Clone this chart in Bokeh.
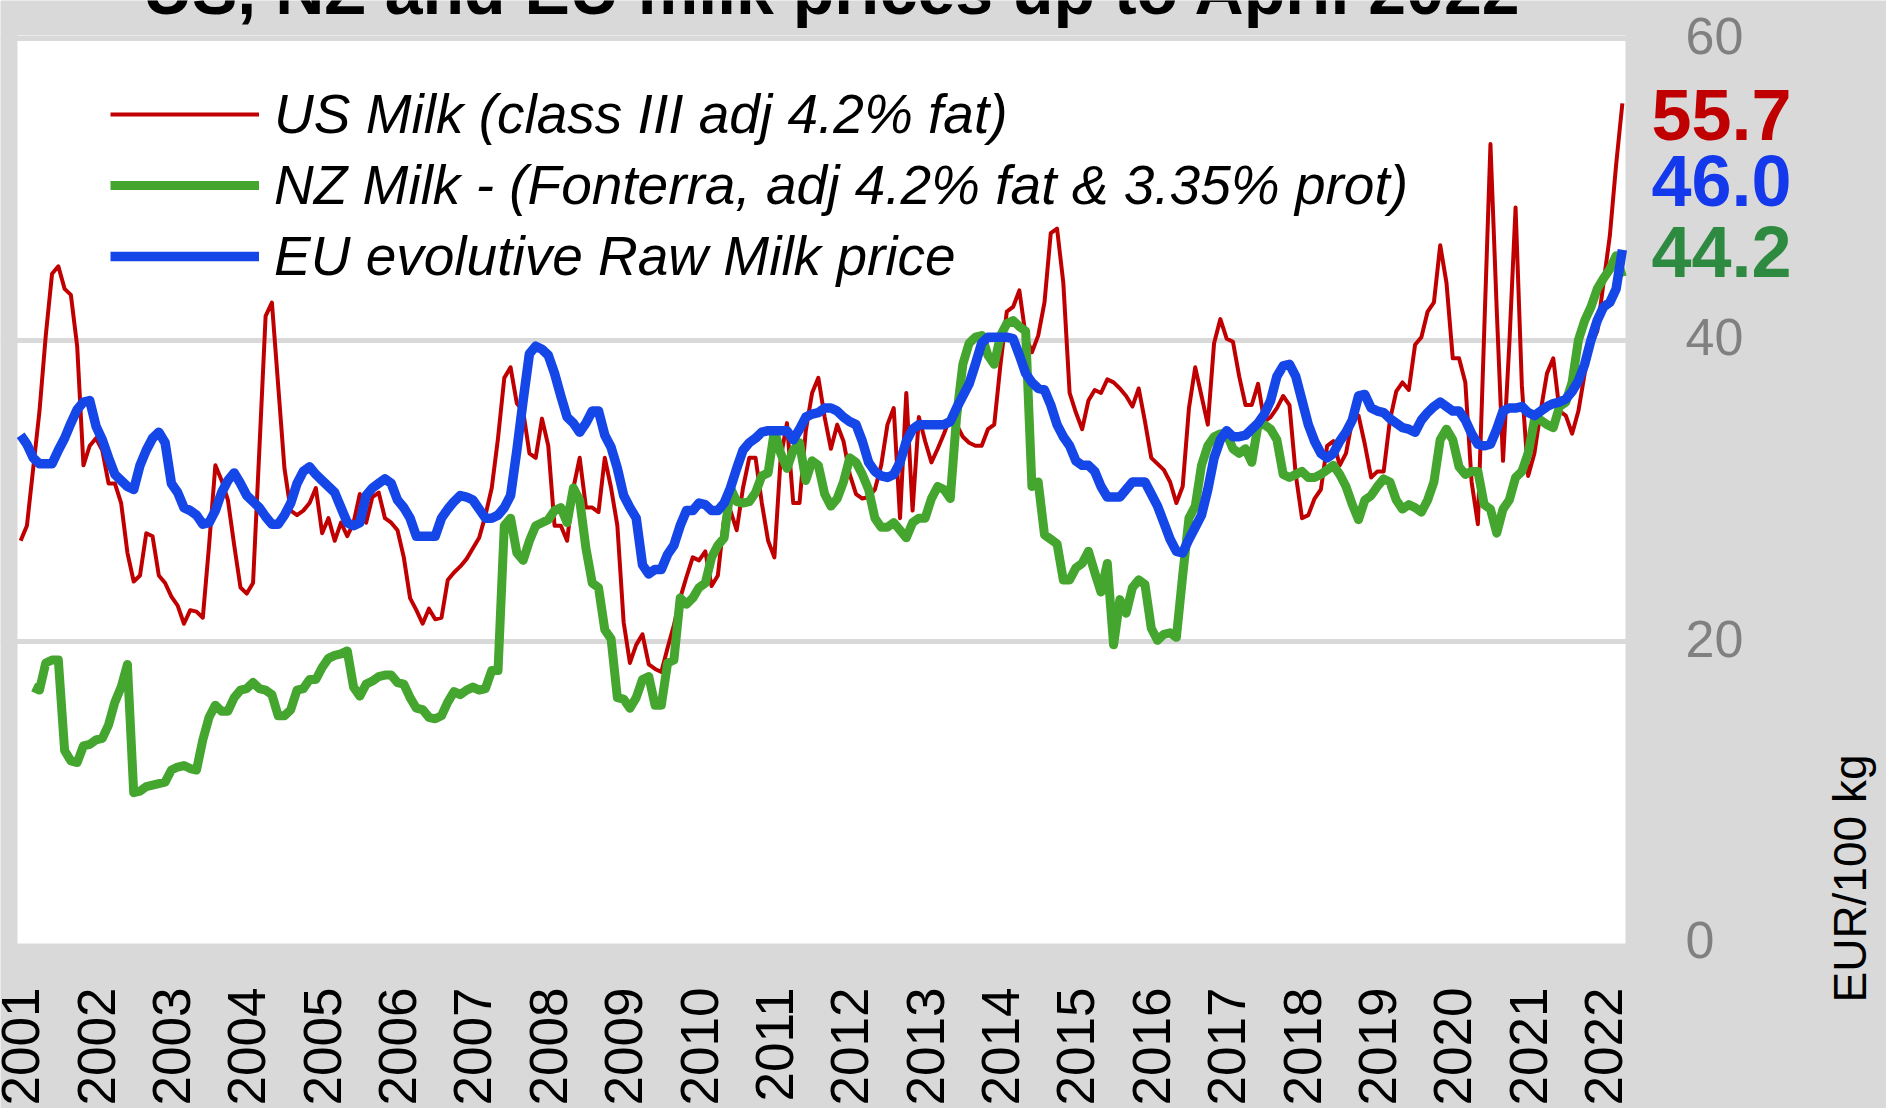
import numpy as np
from bokeh.plotting import figure
from bokeh.models import (ColumnDataSource, FixedTicker, Label, Legend, LegendItem, Range1d, BoxAnnotation)
from bokeh.core.properties import value
from bokeh.embed import file_html
from bokeh.resources import INLINE

# ---------------- data (monthly, Jan 2001 .. Apr 2022, EUR/100 kg) ----------------
year_labels = ["2001", "2002", "2003", "2004", "2005", "2006", "2007", "2008", "2009", "2010", "2011",
               "2012", "2013", "2014", "2015", "2016", "2017", "2018", "2019", "2020", "2021", "2022"]

us_milk = [
    26.7, 27.7, 31.5, 35.3, 40.3, 44.4, 44.9, 43.4, 43.0, 39.6, 31.7, 33.0,   # 2001
    33.5, 32.7, 30.5, 30.5, 29.2, 25.9, 24.0, 24.4, 27.2, 27.0, 24.4, 23.9,   # 2002
    23.0, 22.4, 21.2, 22.1, 22.0, 21.6, 26.4, 31.7, 30.7, 29.4, 26.4, 23.6,   # 2003
    23.2, 23.9, 32.7, 41.6, 42.5, 37.0, 31.5, 28.7, 28.4, 28.7, 29.2, 30.2,   # 2004
    27.2, 28.2, 26.7, 27.9, 27.0, 27.9, 29.8, 27.9, 29.6, 29.9, 28.2, 27.9,   # 2005
    27.4, 25.6, 22.9, 22.1, 21.2, 22.2, 21.5, 21.6, 24.1, 24.6, 25.0, 25.5,   # 2006
    26.2, 26.9, 28.4, 30.2, 33.5, 37.5, 38.2, 35.8, 35.3, 32.5, 32.2, 34.8,   # 2007
    33.0, 27.7, 27.7, 26.7, 30.2, 32.2, 28.9, 28.9, 28.6, 32.2, 30.2, 27.7,   # 2008
    21.3, 18.6, 19.8, 20.5, 18.5, 18.2, 18.0, 19.6, 21.1, 22.9, 24.3, 25.6,   # 2009
    25.4, 26.0, 23.7, 24.4, 28.2, 28.7, 27.4, 30.2, 32.2, 32.2, 29.2, 26.7,   # 2010
    25.6, 32.2, 34.5, 29.2, 29.2, 34.0, 36.5, 37.5, 34.9, 32.8, 34.4, 33.3,   # 2011
    31.1, 29.8, 29.5, 29.6, 30.1, 31.7, 34.4, 35.5, 28.2, 36.5, 28.7, 34.9,   # 2012
    33.3, 31.9, 32.8, 33.8, 34.9, 34.4, 33.6, 33.2, 33.0, 33.0, 34.1, 34.4,   # 2013
    38.4, 41.9, 42.2, 43.3, 40.3, 39.2, 40.3, 42.5, 47.1, 47.4, 43.8, 36.5,   # 2014
    35.2, 34.1, 36.0, 36.7, 36.5, 37.4, 37.2, 36.8, 36.3, 35.6, 36.8, 34.6,   # 2015
    32.2, 31.8, 31.4, 30.6, 29.2, 30.3, 35.5, 38.2, 36.3, 34.4, 39.8, 41.4,   # 2016
    40.1, 39.9, 37.6, 35.7, 35.7, 37.1, 34.6, 34.9, 35.5, 36.3, 35.7, 31.1,   # 2017
    28.2, 28.4, 29.5, 30.1, 33.0, 33.3, 31.7, 32.5, 34.7, 35.0, 33.1, 30.9,   # 2018
    31.3, 31.3, 34.7, 36.6, 37.2, 36.7, 39.7, 40.2, 41.9, 42.5, 46.3, 43.8,   # 2019
    38.8, 38.8, 37.2, 30.6, 27.8, 40.5, 53.0, 42.0, 32.0, 39.7, 48.8, 37.0,   # 2020
    31.0, 32.5, 35.3, 37.8, 38.8, 35.3, 35.0, 33.8, 35.3, 37.8, 39.7, 40.6,   # 2021
    43.8, 46.9, 51.6, 55.7,                                                   # 2022
]

nz_milk = [
    None, None, 17.0, 16.8, 18.6, 18.8, 18.8, 12.8, 12.1, 12.0, 13.1, 13.2,   # 2001
    13.5, 13.6, 14.5, 16.0, 17.0, 18.5, 10.0, 10.1, 10.4, 10.5, 10.6, 10.7,   # 2002
    11.5, 11.7, 11.8, 11.6, 11.5, 13.5, 15.0, 15.8, 15.4, 15.4, 16.3, 16.8,   # 2003
    16.9, 17.3, 16.9, 16.8, 16.5, 15.1, 15.1, 15.5, 16.8, 16.9, 17.5, 17.5,   # 2004
    18.3, 18.9, 19.1, 19.2, 19.4, 17.0, 16.4, 17.2, 17.4, 17.7, 17.8, 17.8,   # 2005
    17.3, 17.2, 16.3, 15.6, 15.5, 15.0, 14.9, 15.1, 16.0, 16.7, 16.5, 16.8,   # 2006
    17.0, 16.8, 16.9, 18.1, 18.1, 27.7, 28.2, 25.9, 25.4, 26.7, 27.7, 27.9,   # 2007
    28.1, 28.7, 28.9, 27.9, 30.2, 29.4, 26.2, 23.9, 23.6, 20.8, 20.2, 16.3,   # 2008
    16.2, 15.6, 16.3, 17.5, 17.7, 15.8, 15.8, 18.6, 18.8, 22.9, 22.5, 22.9,   # 2009
    23.6, 23.9, 25.6, 26.4, 26.9, 30.2, 29.3, 29.2, 29.3, 29.9, 31.0, 31.2,   # 2010
    34.0, 32.5, 31.5, 32.7, 33.2, 30.7, 32.0, 31.7, 29.8, 29.0, 29.5, 30.6,   # 2011
    32.2, 31.9, 31.1, 30.1, 28.2, 27.6, 27.6, 27.9, 27.4, 26.9, 27.9, 28.2,   # 2012
    28.2, 29.5, 30.3, 30.1, 29.5, 34.9, 38.4, 39.8, 40.2, 40.3, 39.0, 38.4,   # 2013
    40.3, 41.1, 41.3, 40.9, 40.6, 30.3, 30.6, 27.1, 26.8, 26.5, 24.1, 24.1,   # 2014
    24.9, 25.2, 26.0, 24.6, 23.3, 25.2, 19.8, 22.8, 21.9, 23.6, 24.1, 23.8,   # 2015
    20.9, 20.1, 20.5, 20.6, 20.3, 24.4, 28.2, 29.0, 31.7, 33.0, 33.6, 33.8,   # 2016
    33.8, 32.8, 32.5, 32.8, 31.9, 34.4, 34.4, 34.1, 33.4, 31.1, 30.9, 31.1,   # 2017
    31.3, 30.9, 30.9, 31.1, 31.4, 31.7, 31.1, 30.3, 29.1, 28.1, 29.4, 29.7,   # 2018
    30.3, 30.8, 30.6, 29.4, 28.8, 29.1, 28.9, 28.6, 29.4, 30.6, 33.4, 34.1,   # 2019
    33.4, 31.6, 31.1, 31.3, 31.3, 29.1, 28.8, 27.2, 28.8, 29.4, 30.9, 31.3,   # 2020
    32.5, 34.7, 34.7, 34.4, 34.2, 35.6, 35.9, 37.2, 40.0, 41.3, 42.2, 43.4,   # 2021
    44.1, 44.7, 45.6, 44.2,                                                   # 2022
]

eu_milk = [
    33.7, 33.1, 32.2, 31.8, 31.8, 31.8, 32.7, 33.5, 34.5, 35.4, 35.9, 36.0,   # 2001
    34.3, 33.4, 32.2, 31.1, 30.7, 30.3, 30.1, 31.7, 32.7, 33.5, 33.9, 33.2,   # 2002
    30.5, 29.9, 28.9, 28.7, 28.4, 27.8, 27.9, 28.7, 29.9, 30.7, 31.2, 30.5,   # 2003
    29.7, 29.3, 28.9, 28.3, 27.8, 27.8, 28.4, 29.2, 30.5, 31.3, 31.6, 31.1,   # 2004
    30.7, 30.3, 29.9, 28.9, 27.9, 27.7, 27.9, 29.7, 30.2, 30.5, 30.8, 30.5,   # 2005
    29.4, 28.9, 28.2, 27.0, 27.0, 27.0, 27.0, 28.2, 28.8, 29.3, 29.7, 29.6,   # 2006
    29.4, 28.8, 28.2, 28.2, 28.4, 28.9, 29.7, 32.7, 36.0, 39.1, 39.6, 39.4,   # 2007
    39.0, 37.8, 36.3, 34.9, 34.5, 33.9, 34.5, 35.3, 35.3, 33.7, 32.9, 31.5,   # 2008
    29.7, 28.9, 28.2, 25.1, 24.5, 24.8, 24.8, 25.8, 26.4, 27.7, 28.7, 28.7,   # 2009
    29.2, 29.1, 28.7, 28.7, 29.2, 30.2, 31.5, 32.7, 33.2, 33.5, 33.9, 34.0,   # 2010
    34.0, 34.0, 34.0, 33.4, 34.1, 34.9, 35.1, 35.2, 35.5, 35.5, 35.3, 34.9,   # 2011
    34.6, 34.4, 33.3, 31.9, 31.3, 31.0, 30.9, 31.1, 31.9, 33.3, 34.1, 34.4,   # 2012
    34.4, 34.4, 34.4, 34.4, 34.6, 35.5, 36.3, 37.1, 38.4, 39.8, 40.2, 40.2,   # 2013
    40.2, 40.2, 40.1, 39.0, 37.8, 37.2, 36.8, 36.7, 35.7, 34.4, 33.6, 33.0,   # 2014
    32.0, 31.7, 31.7, 31.3, 30.3, 29.6, 29.6, 29.6, 30.1, 30.6, 30.6, 30.6,   # 2015
    29.8, 29.0, 27.9, 26.8, 26.0, 25.9, 26.8, 27.6, 28.4, 30.1, 32.2, 33.4,   # 2016
    34.0, 33.6, 33.6, 33.7, 34.1, 34.5, 35.1, 36.0, 37.6, 38.3, 38.4, 37.6,   # 2017
    36.0, 34.4, 33.3, 32.5, 32.2, 32.5, 33.3, 33.9, 34.7, 36.3, 36.4, 35.5,   # 2018
    35.3, 35.2, 34.8, 34.5, 34.2, 34.1, 33.9, 34.7, 35.2, 35.6, 35.9, 35.6,   # 2019
    35.3, 35.3, 34.7, 33.8, 33.1, 33.0, 33.1, 34.1, 35.3, 35.5, 35.5, 35.6,   # 2020
    35.2, 35.0, 35.3, 35.6, 35.8, 35.9, 36.1, 36.6, 37.3, 38.4, 40.0, 41.3,   # 2021
    42.2, 42.5, 43.4, 46.0,                                                   # 2022
]

series_labels = ["US Milk (class III adj 4.2% fat)",
                 "NZ Milk - (Fonterra, adj 4.2% fat & 3.35% prot)",
                 "EU evolutive Raw Milk price"]
title_text = "US, NZ and EU milk prices up to April 2022"
y_axis_title = "EUR/100 kg"
y_ticks = [0, 20, 40, 60]

# ---------------- styling / layout constants ----------------
RED, GREEN, BLUE = "#c00000", "#44a52f", "#1446e8"
RED_T, GREEN_T, BLUE_T = "#c00000", "#2e8a40", "#1438ec"
BG = "#d9d9d9"
FONT = "Liberation Sans"
W, H = 1886, 1108                      # canvas == window (template has no body margin)
PL, PR, PT, PB = 17, 1625, 35, 943     # white plot area in canvas px
Y_TOP = 60.2                           # value at the top edge of the white area
MID = 0.3465                           # baseline offset below a "middle" anchor, in em

n = len(us_milk)
x_idx = np.arange(n)
XA, XB = -0.5, n - 0.5
PXU = (PR - PL) / (XB - XA)            # px per month
PYU = (PB - PT) / Y_TOP                # px per EUR
X0 = XA - PL / PXU
X1 = XA + (W - PL) / PXU
Y0 = -(H - PB) / PYU
Y1 = PB / PYU


def dx(px):  # canvas px -> data x
    return X0 + px / PXU


def dy(py):  # canvas px -> data y
    return Y1 - py / PYU


def to_num(v):
    return np.array([np.nan if a is None else a for a in v], dtype=float)


src = ColumnDataSource(dict(x=x_idx, us=to_num(us_milk), nz=to_num(nz_milk), eu=to_num(eu_milk)))

p = figure(width=W, height=H, output_backend="svg", toolbar_location=None, title=None,
           x_range=Range1d(X0, X1), y_range=Range1d(Y0, Y1),
           x_axis_location=None, y_axis_location=None, min_border=0)
p.background_fill_color = BG
p.border_fill_color = BG
p.outline_line_color = None

# white plotting area
p.add_layout(BoxAnnotation(left=XA, right=XB, bottom=0, top=Y_TOP, fill_color="white", fill_alpha=1.0,
                           line_color=None, level="image"))

p.xgrid.visible = False
p.ygrid.ticker = FixedTicker(ticks=[t for t in y_ticks if t > 0])
p.ygrid.grid_line_color = BG
p.ygrid.grid_line_width = 5

r_us = p.line("x", "us", source=src, line_color=RED, line_width=4, line_join="round")
r_nz = p.line("x", "nz", source=src, line_color=GREEN, line_width=9, line_join="round")
r_eu = p.line("x", "eu", source=src, line_color=BLUE, line_width=9.5, line_join="round")

# year tick labels (vertical, reading upward, ending just below the plot)
yr_src = ColumnDataSource(dict(x=[12 * i for i in range(len(year_labels))],
                               y=[dy(987)] * len(year_labels), text=year_labels))
p.text(x="x", y="y", text="text", source=yr_src, angle=np.pi / 2, text_align="right",
       text_baseline="middle", text_font=value(FONT), text_font_size=value("53px"), text_color="black")

# value tick labels on the right
yt_src = ColumnDataSource(dict(x=[dx(1685)] * len(y_ticks), y=[t + 0.2 for t in y_ticks],
                               text=[str(t) for t in y_ticks]))
p.text(x="x", y="y", text="text", source=yt_src, text_align="left", text_baseline="middle",
       text_font=value(FONT), text_font_size=value("52px"), text_color="#808080")

legend = Legend(items=[LegendItem(label=series_labels[0], renderers=[r_us]),
                       LegendItem(label=series_labels[1], renderers=[r_nz]),
                       LegendItem(label=series_labels[2], renderers=[r_eu])],
                location=(110, 817), orientation="vertical",
                background_fill_alpha=0, border_line_color=None,
                label_text_font=FONT, label_text_font_style="italic",
                label_text_font_size="55px", label_text_color="black",
                glyph_width=149, glyph_height=70, label_height=70, label_standoff=15,
                spacing=1, padding=0, margin=0)
p.add_layout(legend)

# title (partly above the window edge, as in the reference), baseline at y=13 px
TS = 68
p.add_layout(Label(x=dx(832), y=dy(13 - MID * TS), text=title_text, text_align="center",
                   text_baseline="middle", text_font=FONT,
                   text_font_style="bold", text_font_size=f"{TS}px", text_color="black"))

# last values, right of the plot
VS = 72
for val, col, base in [(us_milk[-1], RED_T, 139), (eu_milk[-1], BLUE_T, 205), (nz_milk[-1], GREEN_T, 276)]:
    p.add_layout(Label(x=dx(1721), y=dy(base - MID * VS), text=f"{val:.1f}", text_align="center",
                       text_baseline="middle", text_font=FONT,
                       text_font_style="bold", text_font_size=f"{VS}px", text_color=col))

# y axis title, reading bottom to top
p.add_layout(Label(x=dx(1849), y=dy(878), text=y_axis_title, angle=np.pi / 2,
                   text_align="center", text_baseline="middle",
                   text_font=FONT, text_font_size="46px", text_color="black"))

open("out.html", "w").write(file_html(p, INLINE))
